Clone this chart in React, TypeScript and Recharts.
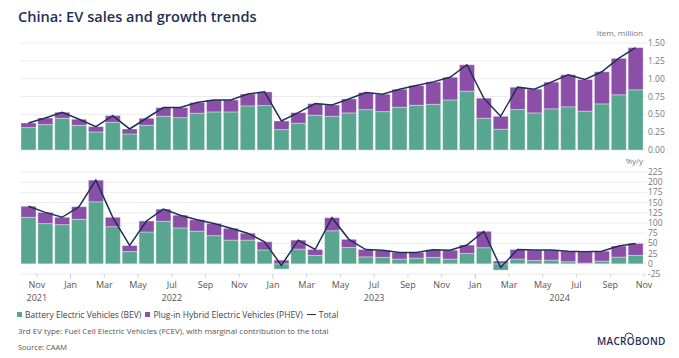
import { Bar, CartesianGrid, ComposedChart, Line, XAxis, YAxis } from "recharts";

const months = [
  "2021-10", "2021-11", "2021-12",
  "2022-01", "2022-02", "2022-03", "2022-04", "2022-05", "2022-06", "2022-07", "2022-08", "2022-09", "2022-10", "2022-11", "2022-12",
  "2023-01", "2023-02", "2023-03", "2023-04", "2023-05", "2023-06", "2023-07", "2023-08", "2023-09", "2023-10", "2023-11", "2023-12",
  "2024-01", "2024-02", "2024-03", "2024-04", "2024-05", "2024-06", "2024-07", "2024-08", "2024-09", "2024-10",
];

// sales, million units
const bevSales = [0.314, 0.356, 0.445, 0.346, 0.253, 0.389, 0.225, 0.346, 0.473, 0.454, 0.515, 0.534, 0.534, 0.618, 0.623, 0.286, 0.375, 0.487, 0.473, 0.52, 0.566, 0.538, 0.599, 0.627, 0.641, 0.702, 0.825, 0.445, 0.291, 0.567, 0.52, 0.577, 0.605, 0.544, 0.647, 0.774, 0.844];
const phevSales = [0.065, 0.093, 0.084, 0.085, 0.075, 0.093, 0.07, 0.099, 0.122, 0.141, 0.15, 0.168, 0.168, 0.167, 0.192, 0.121, 0.149, 0.164, 0.159, 0.196, 0.239, 0.244, 0.253, 0.277, 0.314, 0.318, 0.37, 0.282, 0.182, 0.314, 0.333, 0.375, 0.45, 0.445, 0.45, 0.511, 0.591];
const totalSales = [0.379, 0.449, 0.529, 0.431, 0.328, 0.482, 0.295, 0.445, 0.595, 0.595, 0.665, 0.702, 0.702, 0.785, 0.815, 0.407, 0.524, 0.651, 0.632, 0.716, 0.805, 0.782, 0.852, 0.904, 0.955, 1.02, 1.195, 0.727, 0.473, 0.881, 0.853, 0.952, 1.055, 0.989, 1.097, 1.285, 1.435];

// contributions to growth, %y/y
const bevGrowth = [114, 98.5, 96, 109, 152, 91, 30, 78, 104, 88, 80, 69, 58, 58, 34, -13, 36, 20.5, 81, 40, 17, 15.6, 11.5, 14, 15.6, 11.5, 25.5, 39.4, -15.6, 11.5, 8.2, 9, 5, 1.6, 6.6, 16.4, 20.5];
const phevGrowth = [27, 27.5, 18, 31, 53, 23, 15, 27, 30, 31, 28, 30, 29, 17, 20, 9, 22, 14.5, 32, 20, 18, 17.4, 16.5, 14, 18.9, 22, 20.5, 40.2, 6.6, 23.5, 25.5, 24.7, 26, 28, 24.4, 27.1, 29.5];
const totalGrowth = [141, 126, 114, 140, 205, 114, 45, 105, 134, 119, 108, 99, 87, 75, 54, -4, 58, 35, 113, 60, 35, 33, 28, 28, 34.5, 33.5, 46, 79.6, -9, 35, 33.7, 33.7, 31, 29.6, 31, 43.5, 50];

// labels sit on the month boundary after every other bar
const tickMonths = ["Nov", "Jan", "Mar", "May", "Jul", "Sep", "Nov", "Jan", "Mar", "May", "Jul", "Sep", "Nov", "Jan", "Mar", "May", "Jul", "Sep", "Nov"];
const yearLabels: Record<number, string> = { 0: "2021", 8: "2022", 20: "2023", 32: "2024" };

const salesTicks = [0, 0.25, 0.5, 0.75, 1, 1.25, 1.5];
const growthTicks = [-25, 0, 25, 50, 75, 100, 125, 150, 175, 200, 225];

const BEV = "#58a68f";
const PHEV = "#8c4fa7";
const NAVY = "#1f3056";
const GRID = "#ececec";
const FONT = "'Open Sans', sans-serif";

const salesData = months.map((m, i) => ({ month: m, bev: bevSales[i], phev: phevSales[i], total: totalSales[i] }));
const growthData = months.map((m, i) => ({ month: m, bev: bevGrowth[i], phev: phevGrowth[i], total: totalGrowth[i] }));

const PLOT_LEFT = 20;
const AXIS_W = 35;
const BAND = (679 - AXIS_W - PLOT_LEFT) / months.length;

function MonthTick(props: any) {
  const { x, y, payload } = props;
  const i = months.indexOf(payload.value);
  if (i < 0 || i % 2 !== 0) return null;
  const bx = x + BAND / 2;
  const label = tickMonths[i / 2];
  const year = yearLabels[i];
  const yx = i === 32 ? bx - 17 : bx;
  return (
    <g>
      <line x1={bx} x2={bx} y1={y} y2={y + (label === "Jan" ? 5 : 3)} stroke="#cfcfcf" />
      <text x={bx} y={y + 14} textAnchor="middle" fontSize={9} fill="#555" fontFamily={FONT}>{label}</text>
      {year && <text x={yx} y={y + 27} textAnchor="middle" fontSize={9} fill="#555" fontFamily={FONT}>{year}</text>}
    </g>
  );
}

const axisTick = { fontSize: 8.5, fill: "#777", fontFamily: FONT };

export default function App() {
  return (
    <div style={{ position: "absolute", left: 0, top: 0, width: 679, height: 358, background: "#fff", fontFamily: FONT, overflow: "hidden" }}>
      <div style={{ position: "absolute", left: 18, top: 6, fontSize: 14.6, fontWeight: 600, color: NAVY }}>China: EV sales and growth trends</div>
      <div style={{ position: "absolute", right: 36, top: 27, fontSize: 8, color: "#777" }}>Item, million</div>

      <div style={{ position: "absolute", left: 0, top: 0 }}>
        <ComposedChart width={679} height={158} data={salesData} margin={{ top: 43, right: 0, bottom: 8, left: PLOT_LEFT }}>
          <CartesianGrid vertical={false} stroke={GRID} />
          <XAxis dataKey="month" hide />
          <YAxis orientation="right" width={AXIS_W} domain={[0, 1.5]} ticks={salesTicks} tickFormatter={(v: number) => v.toFixed(2)}
            axisLine={false} tickLine={{ stroke: GRID }} tickSize={3} tickMargin={1} tick={axisTick} interval={0} />
          <Bar dataKey="bev" stackId="s" fill={BEV} barSize={15} stroke="rgba(255,255,255,0.6)" strokeWidth={0.6} isAnimationActive={false} />
          <Bar dataKey="phev" stackId="s" fill={PHEV} barSize={15} stroke="rgba(255,255,255,0.6)" strokeWidth={0.6} isAnimationActive={false} />
          <Line dataKey="total" type="linear" stroke={NAVY} strokeWidth={1.5} dot={false} activeDot={false} isAnimationActive={false} />
        </ComposedChart>
      </div>

      <div style={{ position: "absolute", right: 36, top: 155, fontSize: 8, color: "#777" }}>%y/y</div>

      <div style={{ position: "absolute", left: 0, top: 160 }}>
        <ComposedChart width={679} height={150} data={growthData} stackOffset="sign" margin={{ top: 12, right: 0, bottom: 0, left: PLOT_LEFT }}>
          <CartesianGrid vertical={false} stroke={GRID} />
          <XAxis dataKey="month" height={36} interval={0} axisLine={false} tickLine={false} tickSize={0} tickMargin={0} tick={<MonthTick />} />
          <YAxis orientation="right" width={AXIS_W} domain={[-25, 225]} ticks={growthTicks} axisLine={false}
            tickLine={{ stroke: GRID }} tickSize={3} tickMargin={1} tick={axisTick} interval={0} />
          <Bar dataKey="bev" stackId="g" fill={BEV} barSize={15} stroke="rgba(255,255,255,0.6)" strokeWidth={0.6} isAnimationActive={false} />
          <Bar dataKey="phev" stackId="g" fill={PHEV} barSize={15} stroke="rgba(255,255,255,0.6)" strokeWidth={0.6} isAnimationActive={false} />
          <Line dataKey="total" type="linear" stroke={NAVY} strokeWidth={1.5} dot={false} activeDot={false} isAnimationActive={false} />
        </ComposedChart>
      </div>

      <div style={{ position: "absolute", left: 17, top: 309, fontSize: 8.5, color: "#444", display: "flex", alignItems: "center", whiteSpace: "nowrap" }}>
        <span style={{ width: 5, height: 5, background: BEV, display: "inline-block", marginRight: 3 }} />
        <span style={{ marginRight: 4 }}>Battery Electric Vehicles (BEV)</span>
        <span style={{ width: 5, height: 5, background: PHEV, display: "inline-block", marginRight: 3 }} />
        <span style={{ marginRight: 4 }}>Plug-in Hybrid Electric Vehicles (PHEV)</span>
        <span style={{ width: 9, height: 1.5, background: NAVY, display: "inline-block", marginRight: 3 }} />
        <span>Total</span>
      </div>
      <div style={{ position: "absolute", left: 18, top: 325, fontSize: 8, color: "#555", whiteSpace: "nowrap" }}>
        3rd EV type: Fuel Cell Electric Vehicles (FCEV), with marginal contribution to the total
      </div>
      <div style={{ position: "absolute", left: 18, top: 342, fontSize: 7.5, color: "#555" }}>Source: CAAM</div>

      <svg style={{ position: "absolute", left: 595, top: 330 }} width={80} height={20}>
        <text x={2} y={15} fontSize={10} fontWeight={600} fill={NAVY} fontFamily={FONT} letterSpacing={0.3}>MACROBOND</text>
        <path d="M 30 7 A 4 4 0 0 1 38 7" fill="none" stroke={NAVY} strokeWidth={0.9} />
      </svg>
    </div>
  );
}
